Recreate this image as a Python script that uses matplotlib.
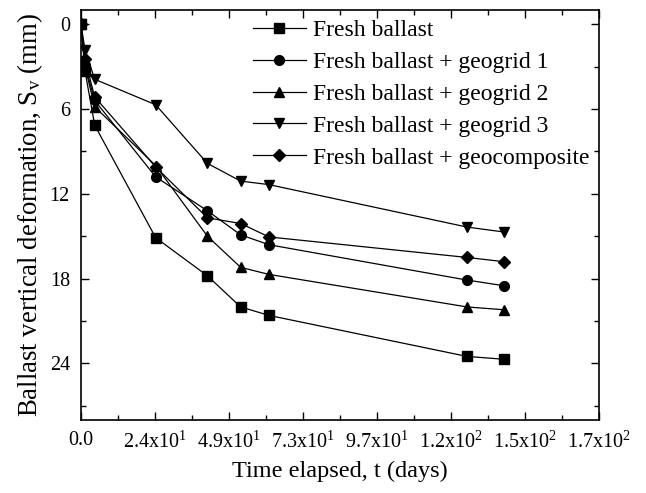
import matplotlib
matplotlib.use("Agg")
import matplotlib.pyplot as plt
from matplotlib.ticker import MultipleLocator, FixedLocator, FuncFormatter

plt.rcParams['font.family'] = ['Liberation Serif', 'DejaVu Serif']
plt.rcParams['mathtext.fontset'] = 'custom'
plt.rcParams['mathtext.rm'] = 'Liberation Serif'
plt.rcParams['mathtext.it'] = 'Liberation Serif:italic'

# elapsed time (days) and vertical settlement (mm) of each ballast section
days = [0, 1.3, 4.5, 24.5, 41.5, 52.4, 61.7, 126.7, 138.8]
fresh = [0, 3.3, 7.15, 15.1, 17.8, 20.0, 20.6, 23.5, 23.7]
geogrid1 = [0, 2.9, 5.4, 10.8, 13.2, 14.9, 15.6, 18.1, 18.5]
geogrid2 = [0, 3.0, 5.85, 10.0, 15.0, 17.2, 17.7, 20.0, 20.2]
geogrid3 = [0, 1.8, 3.9, 5.7, 9.85, 11.1, 11.35, 14.35, 14.7]
geocomposite = [0, 2.5, 5.15, 10.1, 13.7, 14.1, 15.05, 16.5, 16.8]

labels = ['Fresh ballast', 'Fresh ballast + geogrid 1', 'Fresh ballast + geogrid 2',
          'Fresh ballast + geogrid 3', 'Fresh ballast + geocomposite']
markers = ['s', 'o', '^', 'v', 'D']
series = [fresh, geogrid1, geogrid2, geogrid3, geocomposite]

x_max = 170.0
x_ticks = [x_max * i / 7 for i in range(8)]


def sci_label(v, pos=None):
    if v == 0:
        return '0.0'
    exp = 1 if v < 100 else 2
    return f'{v / 10 ** exp:.1f}x10$^{{\\mathregular{{{exp}}}}}$'


fig = plt.figure(figsize=(6.46, 4.93), dpi=100)
ax = fig.add_axes([0.1254, 0.148, 0.8016, 0.8317])

for ys, m, lab in zip(series, markers, labels):
    ms = 6 if m == 'D' else 7
    ax.plot(days, ys, color='black', lw=0.9, marker=m, ms=ms, label=lab)

ax.set_xlim(0, x_max)
ax.set_ylim(28, -1)
ax.xaxis.set_major_locator(FixedLocator(x_ticks))
ax.xaxis.set_minor_locator(FixedLocator([x_max * (i + 0.5) / 7 for i in range(7)]))
ax.xaxis.set_major_formatter(FuncFormatter(sci_label))
ax.yaxis.set_major_locator(MultipleLocator(6))
ax.yaxis.set_minor_locator(MultipleLocator(3))

ax.tick_params(which='both', direction='in', top=True, right=True, labelsize=14.5, width=1.0)
ax.tick_params(which='major', length=6, pad=8)
ax.tick_params(which='minor', length=3.5)
for s in ax.spines.values():
    s.set_linewidth(1.2)

ax.set_xlabel('Time elapsed, t (days)', fontsize=17.5, labelpad=6)
ax.set_ylabel('Ballast vertical deformation, S$_\\mathregular{v}$ (mm)', fontsize=19.3, labelpad=3)

ax.legend(loc='upper right', bbox_to_anchor=(1.0, 1.0), borderaxespad=0.2, fontsize=17,
          handlelength=2.25, labelspacing=0.44, frameon=False, borderpad=0.2,
          handletextpad=0.3)

fig.savefig('out.png', dpi=100)
